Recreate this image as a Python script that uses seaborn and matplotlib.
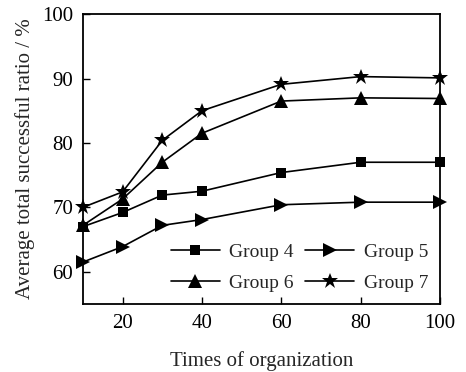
import matplotlib
matplotlib.use("Agg")
import matplotlib.pyplot as plt
import seaborn as sns
import pandas as pd

# Times of organization and the average total successful ratio (%) for each group
times = [10, 20, 30, 40, 60, 80, 100]
group4 = [67.0, 69.2, 71.9, 72.5, 75.4, 77.0, 77.0]
group5 = [61.5, 63.9, 67.2, 68.1, 70.4, 70.8, 70.8]
group6 = [67.2, 71.3, 77.0, 81.5, 86.5, 87.0, 86.9]
group7 = [70.0, 72.4, 80.4, 85.0, 89.1, 90.3, 90.1]
group_names = ["Group 4", "Group 5", "Group 6", "Group 7"]

frames = []
for name, vals in zip(group_names, [group4, group5, group6, group7]):
    frames.append(pd.DataFrame({"times": times, "ratio": vals, "group": name}))
df = pd.concat(frames, ignore_index=True)

sns.set_theme(style="ticks")
plt.rcParams["font.family"] = ["Liberation Serif", "DejaVu Serif"]

fig = plt.figure(figsize=(4.66, 3.72), dpi=100)
ax = fig.add_axes([0.178, 0.183, 0.766, 0.779])

markers = {"Group 4": "s", "Group 5": ">", "Group 6": "^", "Group 7": "*"}
sizes = {"Group 4": 7.5, "Group 5": 10, "Group 6": 10, "Group 7": 12}
palette = {g: "black" for g in group_names}

sns.lineplot(data=df, x="times", y="ratio", hue="group", style="group",
             markers=markers, dashes=False, palette=palette, ax=ax,
             linewidth=1.2, markersize=9, markeredgewidth=0, legend=False)

# per-series marker sizes
for line, g in zip(ax.lines, group_names):
    line.set_markersize(sizes[g])
    line.set_clip_on(False)

# legend laid out row by row: (4, 5) on top, (6, 7) below
order = ["Group 4", "Group 6", "Group 5", "Group 7"]
handles = [plt.Line2D([], [], color="black", lw=1.2, marker=markers[g],
                      markersize=sizes[g], markeredgewidth=0)
           for g in order]
ax.legend(handles, order, ncol=2, frameon=False, fontsize=14,
          loc="lower right", bbox_to_anchor=(1.0, 0.0),
          handlelength=2.5, handletextpad=0.5, columnspacing=0.6,
          labelspacing=0.7, borderaxespad=0.2)

ax.set_xlim(10, 100)
ax.set_ylim(55, 100)
ax.set_xticks([20, 40, 60, 80, 100])
ax.set_yticks([60, 70, 80, 90, 100])
ax.tick_params(direction="in", length=5, width=1, labelsize=15, colors="black",
               pad=7)
for s in ax.spines.values():
    s.set_visible(True)
    s.set_linewidth(1.3)
    s.set_color("black")

ax.set_xlabel("Times of organization", fontsize=15, labelpad=13)
ax.set_ylabel("Average total successful ratio / %", fontsize=15, labelpad=5)

fig.savefig("out.png", dpi=100)
